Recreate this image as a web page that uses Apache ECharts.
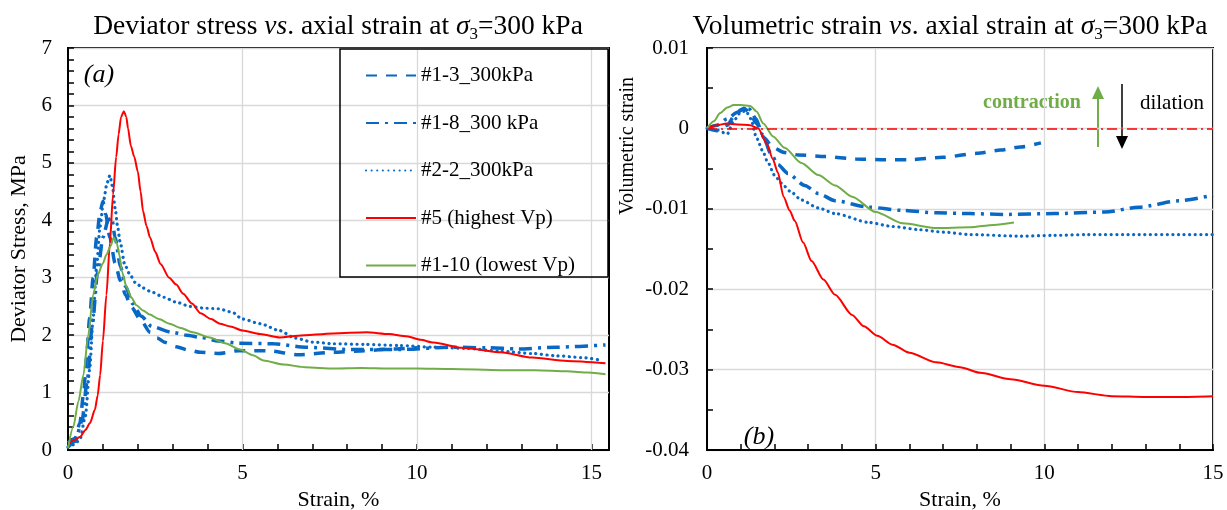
<!DOCTYPE html>
<html><head><meta charset="utf-8">
<script src="https://cdn.jsdelivr.net/npm/echarts@6/dist/echarts.min.js"></script>
<style>html,body{margin:0;padding:0;background:#fff}#c{width:1227px;height:510px}</style>
</head><body><div id="c"></div>
<script>
// ---------- DATA ----------
const seriesNames = ['#1-3_300kPa', '#1-8_300 kPa', '#2-2_300kPa', '#5 (highest Vp)', '#1-10 (lowest Vp)'];

// Deviator stress (MPa) vs axial strain (%)
const stress_1_3 = [[0,0.12],[0.2,0.2],[0.34,0.47],[0.45,1.0],[0.53,1.6],[0.62,2.3],[0.72,3.0],[0.82,3.7],[0.92,4.15],[1.0,4.33],[1.08,4.1],[1.2,3.7],[1.35,3.25],[1.5,2.95],[1.65,2.7],[1.8,2.5],[2.1,2.25],[2.35,2.05],[2.55,1.95],[2.8,1.87],[3.1,1.8],[3.45,1.74],[3.8,1.7],[4.3,1.68],[4.9,1.73],[5.7,1.73],[6.6,1.66],[7.6,1.7],[8.5,1.73],[9.3,1.76],[10.0,1.78]];
const stress_1_8 = [[0,0.05],[0.2,0.15],[0.4,0.5],[0.55,1.2],[0.7,2.2],[0.85,3.1],[1.0,3.7],[1.15,4.0],[1.25,4.05],[1.35,3.7],[1.5,3.2],[1.65,2.85],[1.85,2.55],[2.1,2.33],[2.4,2.15],[2.97,2.05],[3.4,2.0],[3.8,1.96],[4.3,1.9],[4.9,1.86],[5.9,1.85],[6.8,1.79],[8.0,1.75],[9.5,1.75],[11.0,1.79],[12.0,1.78],[12.9,1.76],[14.0,1.79],[15.4,1.83]];
const stress_2_2 = [[0,0.05],[0.2,0.1],[0.35,0.2],[0.5,0.6],[0.62,1.4],[0.72,2.3],[0.82,3.2],[0.92,3.9],[1.02,4.35],[1.12,4.65],[1.2,4.78],[1.27,4.6],[1.35,4.21],[1.42,3.9],[1.49,3.63],[1.63,3.22],[1.78,3.05],[1.92,2.92],[2.15,2.82],[2.4,2.75],[2.75,2.66],[3.07,2.58],[3.5,2.5],[3.9,2.47],[4.3,2.46],[4.7,2.4],[5.0,2.28],[5.5,2.2],[6.06,2.08],[6.5,1.95],[7.0,1.88],[7.6,1.85],[8.5,1.84],[9.5,1.82],[10.5,1.79],[11.4,1.77],[12.4,1.72],[13.3,1.68],[14.0,1.64],[14.7,1.61],[15.3,1.56]];
const stress_5 = [[0,0.1],[0.2,0.18],[0.35,0.23],[0.5,0.35],[0.63,0.47],[0.77,0.7],[0.85,0.95],[0.92,1.3],[1.0,1.9],[1.1,2.7],[1.2,3.6],[1.29,4.45],[1.38,5.1],[1.45,5.5],[1.52,5.8],[1.6,5.9],[1.67,5.8],[1.72,5.6],[1.8,5.3],[1.9,5.1],[2.0,4.85],[2.08,4.5],[2.15,4.16],[2.25,3.9],[2.35,3.7],[2.5,3.45],[2.65,3.24],[2.9,3.0],[3.1,2.88],[3.3,2.72],[3.55,2.55],[3.8,2.38],[4.1,2.28],[4.35,2.2],[4.65,2.15],[5.0,2.08],[5.5,2.02],[6.07,1.96],[6.6,1.99],[7.6,2.03],[8.56,2.05],[9.2,2.02],[9.7,1.98],[10.1,1.92],[10.47,1.87],[11.3,1.78],[12.4,1.7],[13.3,1.61],[14.3,1.55],[15.4,1.51]];
const stress_1_10 = [[0,0.03],[0.15,0.4],[0.3,0.85],[0.44,1.3],[0.58,2.0],[0.72,2.7],[0.85,3.05],[1.0,3.25],[1.1,3.4],[1.22,3.55],[1.31,3.7],[1.4,3.6],[1.47,3.4],[1.55,3.1],[1.68,2.83],[1.82,2.65],[1.96,2.52],[2.15,2.43],[2.34,2.36],[2.6,2.28],[2.91,2.2],[3.2,2.13],[3.58,2.05],[4.06,1.96],[4.5,1.86],[4.93,1.75],[5.3,1.65],[5.6,1.56],[6.17,1.49],[6.8,1.44],[7.6,1.42],[8.4,1.43],[9.2,1.42],[10.0,1.42],[11.0,1.41],[12.4,1.39],[13.4,1.39],[14.3,1.37],[14.9,1.35],[15.4,1.32]];

// Volumetric strain vs axial strain (%)
const vol_1_3 = [[0,0],[0.3,-0.0003],[0.6,0.0004],[0.8,0.0015],[1.0,0.0023],[1.1,0.0025],[1.25,0.002],[1.47,0.0006],[1.7,-0.0012],[1.96,-0.0024],[2.3,-0.003],[2.7,-0.0033],[3.5,-0.0035],[4.4,-0.0038],[5.3,-0.0039],[6.0,-0.0039],[7.0,-0.0036],[8.0,-0.0031],[8.7,-0.0027],[9.3,-0.0023],[9.9,-0.0018]];
const vol_1_8 = [[0,0],[0.3,0.0004],[0.6,0.0012],[0.9,0.002],[1.1,0.0025],[1.25,0.0024],[1.45,0.0012],[1.65,-0.0008],[1.9,-0.0032],[2.1,-0.0045],[2.4,-0.0056],[2.9,-0.0071],[3.3,-0.0081],[3.8,-0.009],[4.8,-0.0098],[5.8,-0.0102],[6.8,-0.0105],[7.8,-0.0106],[8.8,-0.0107],[10.3,-0.0106],[11.8,-0.0104],[12.8,-0.0098],[14.0,-0.009],[15.0,-0.0083]];
const vol_2_2 = [[0,0],[0.3,-0.0002],[0.6,-0.0007],[0.8,0.001],[1.0,0.002],[1.15,0.0022],[1.3,0.0012],[1.47,-0.0012],[1.65,-0.0028],[1.8,-0.0042],[2.0,-0.0058],[2.2,-0.0068],[2.46,-0.0078],[2.8,-0.0089],[3.3,-0.0099],[3.8,-0.0106],[4.8,-0.0117],[5.5,-0.0122],[6.3,-0.0126],[7.0,-0.0129],[7.8,-0.0132],[9.3,-0.0134],[10.3,-0.0133],[11.3,-0.0132],[12.8,-0.0132],[14.0,-0.0132],[15.0,-0.0132]];
const vol_5 = [[0,0.0002],[0.3,0.0004],[0.58,0.0006],[0.9,0.0005],[1.28,0.0004],[1.52,0.0],[1.77,-0.0019],[1.95,-0.0038],[2.1,-0.0055],[2.27,-0.0085],[2.45,-0.0102],[2.6,-0.0115],[2.85,-0.0142],[3.1,-0.0165],[3.45,-0.0188],[3.8,-0.0207],[4.3,-0.0232],[4.65,-0.0246],[5.05,-0.0258],[5.5,-0.0269],[6.0,-0.0279],[6.8,-0.0291],[7.5,-0.0297],[8.1,-0.0304],[9.0,-0.0312],[10.0,-0.032],[11.0,-0.0328],[12.0,-0.0333],[13.0,-0.0334],[14.0,-0.0334],[15.0,-0.0333]];
const vol_1_10 = [[0,0],[0.2,0.0009],[0.39,0.0019],[0.6,0.0026],[0.79,0.0029],[1.0,0.0029],[1.28,0.0028],[1.47,0.0021],[1.67,0.0006],[1.96,-0.001],[2.3,-0.0024],[2.8,-0.0043],[3.3,-0.0058],[3.8,-0.0071],[4.3,-0.0085],[5.0,-0.0104],[5.8,-0.0118],[6.8,-0.0124],[7.8,-0.0123],[8.5,-0.012],[9.1,-0.0117]];

const leftGridLinesX = [5, 10, 15];
const zeroLineY = [0];

// ---------- STYLE ----------
const FONT = 'Liberation Serif';
const BLUE = '#0868C4', RED = '#FF0000', GREEN = '#70AD47';
const styles = [
  {color: BLUE, width: 3.5, type: [11, 9]},
  {color: BLUE, width: 3.5, type: [13, 6, 3, 6]},
  {color: BLUE, width: 3.2, type: [0.1, 5.5], cap: 'round'},
  {color: RED, width: 2, type: 'solid'},
  {color: GREEN, width: 2, type: 'solid'}
];
const leftData = [stress_1_3, stress_1_8, stress_2_2, stress_5, stress_1_10];
const rightData = [vol_1_3, vol_1_8, vol_2_2, vol_5, vol_1_10];

function mk(i, data, idx) {
  return {
    type: 'line', name: seriesNames[i], data: data,
    xAxisIndex: idx, yAxisIndex: idx,
    symbol: 'none', showSymbol: false,
    smooth: 0.25, smoothMonotone: 'x',
    color: styles[i].color,
    lineStyle: Object.assign({}, styles[i]),
    animation: false, z: 3
  };
}
const series = [];
leftData.forEach((d, i) => series.push(mk(i, d, 0)));
rightData.forEach((d, i) => series.push(mk(i, d, 1)));
series[0].markLine = {
  silent: true, symbol: 'none', z: 1, animation: false,
  label: {show: false},
  lineStyle: {color: '#D9D9D9', width: 1.3, type: 'solid'},
  data: leftGridLinesX.map(v => ({xAxis: v}))
};
series[8].markLine = {
  silent: true, symbol: 'none', z: 4, animation: false,
  label: {show: false},
  lineStyle: {color: RED, width: 1.5, type: [10, 4, 2, 4]},
  data: zeroLineY.map(v => ({yAxis: v}))
};

const tickStyle = {show: true, inside: true, length: 6, lineStyle: {color: '#000', width: 1.5}};
const minorStyle = (n) => ({show: true, splitNumber: n, length: 6, lineStyle: {color: '#000', width: 1.5}});
const axisLine = {show: true, onZero: false, lineStyle: {color: '#000', width: 2}};
const label = (fmt, m) => ({color: '#000', fontFamily: FONT, fontSize: 21, margin: m, formatter: fmt});
const nameStyle = {color: '#000', fontFamily: FONT, fontSize: 22};
const split = {show: true, lineStyle: {color: '#D9D9D9', width: 1.3}};

const titleRich = {
  n: {fontFamily: FONT, fontSize: 27.5, fontWeight: 'normal', color: '#000', lineHeight: 32},
  i: {fontFamily: FONT, fontSize: 27.5, fontWeight: 'normal', color: '#000', fontStyle: 'italic', lineHeight: 32},
  s: {fontFamily: FONT, fontSize: 17, fontWeight: 'normal', color: '#000', verticalAlign: 'bottom'}
};

const option = {
  backgroundColor: '#fff',
  animation: false,
  title: [
    {left: 338, top: 11, padding: 0, textAlign: 'center',
     text: '{n|Deviator stress }{i|vs}{n|. axial strain at }{i|σ}{s|3}{n|=300 kPa}',
     textStyle: {fontWeight: 'normal', rich: titleRich}},
    {left: 950, top: 11, padding: 0, textAlign: 'center',
     text: '{n|Volumetric strain }{i|vs}{n|. axial strain at }{i|σ}{s|3}{n|=300 kPa}',
     textStyle: {fontWeight: 'normal', rich: titleRich}}
  ],
  legend: {
    orient: 'vertical', left: 365, top: 65, padding: 0,
    itemWidth: 50, itemHeight: 20, itemGap: 26.5,
    itemStyle: {color: 'transparent', borderWidth: 0, opacity: 0},
    textStyle: {color: '#000', fontFamily: FONT, fontSize: 21},
    data: seriesNames
  },
  grid: [
    {left: 68, top: 48, width: 541, height: 402, show: true, borderColor: '#000', borderWidth: 2, backgroundColor: 'transparent', outerBoundsMode: 'none'},
    {left: 707, top: 48, width: 506, height: 402, show: true, borderColor: '#000', borderWidth: 2, backgroundColor: 'transparent', outerBoundsMode: 'none'}
  ],
  xAxis: [
    {type: 'value', gridIndex: 0, min: 0, max: 15.5, interval: 1,
     axisLine: axisLine, axisTick: tickStyle, splitLine: {show: false},
     axisLabel: label(v => (Math.abs(v % 5) < 1e-9 ? String(v) : ''), 13),
     name: 'Strain, %', nameLocation: 'middle', nameGap: 30, nameTextStyle: nameStyle},
    {type: 'value', gridIndex: 1, min: 0, max: 15, interval: 5,
     axisLine: axisLine, axisTick: tickStyle, minorTick: minorStyle(5), splitLine: split,
     axisLabel: label(v => String(v), 13),
     name: 'Strain, %', nameLocation: 'middle', nameGap: 30, nameTextStyle: nameStyle}
  ],
  yAxis: [
    {type: 'value', gridIndex: 0, min: 0, max: 7, interval: 1,
     axisLine: axisLine, axisTick: tickStyle, minorTick: minorStyle(5), splitLine: split,
     axisLabel: label(v => String(v), 16),
     name: 'Deviator Stress, MPa', nameLocation: 'middle', nameGap: 38, nameTextStyle: nameStyle},
    {type: 'value', gridIndex: 1, min: -0.04, max: 0.01, interval: 0.01,
     axisLine: axisLine, axisTick: tickStyle, minorTick: minorStyle(2), splitLine: split,
     axisLabel: label(v => (Math.abs(v) < 1e-9 ? '0' : v.toFixed(2)), 18)}
  ],
  graphic: [
    {type: 'rect', shape: {x: 340, y: 49, width: 268, height: 228}, style: {fill: 'none', stroke: '#000', lineWidth: 1.5}, z: 10},
    {type: 'text', x: 628, y: 146, rotation: Math.PI / 2,
     style: {text: 'Volumetric strain', fontFamily: FONT, fontSize: 20, fill: '#000', align: 'center', verticalAlign: 'middle'}},
    {type: 'text', x: 99, y: 75, style: {text: '(a)', fontFamily: FONT, fontSize: 26, fontStyle: 'italic', fill: '#000', align: 'center', verticalAlign: 'middle'}},
    {type: 'text', x: 759, y: 437, style: {text: '(b)', fontFamily: FONT, fontSize: 26, fontStyle: 'italic', fill: '#000', align: 'center', verticalAlign: 'middle'}},
    {type: 'text', x: 1032, y: 103, style: {text: 'contraction', fontFamily: FONT, fontSize: 20, fontWeight: 'bold', fill: GREEN, align: 'center', verticalAlign: 'middle'}},
    {type: 'text', x: 1172, y: 103, style: {text: 'dilation', fontFamily: FONT, fontSize: 21, fill: '#000', align: 'center', verticalAlign: 'middle'}},
    {type: 'line', shape: {x1: 1098, y1: 147, x2: 1098, y2: 96}, style: {stroke: GREEN, lineWidth: 2}},
    {type: 'polygon', shape: {points: [[1092, 99], [1104, 99], [1098, 86]]}, style: {fill: GREEN}},
    {type: 'line', shape: {x1: 1122, y1: 84, x2: 1122, y2: 138}, style: {stroke: '#000', lineWidth: 1.5}},
    {type: 'polygon', shape: {points: [[1116, 136], [1128, 136], [1122, 149]]}, style: {fill: '#000'}}
  ],
  series: series
};

const chart = echarts.init(document.getElementById('c'), null, {renderer: 'canvas'});
chart.setOption(option);
</script>
</body></html>
